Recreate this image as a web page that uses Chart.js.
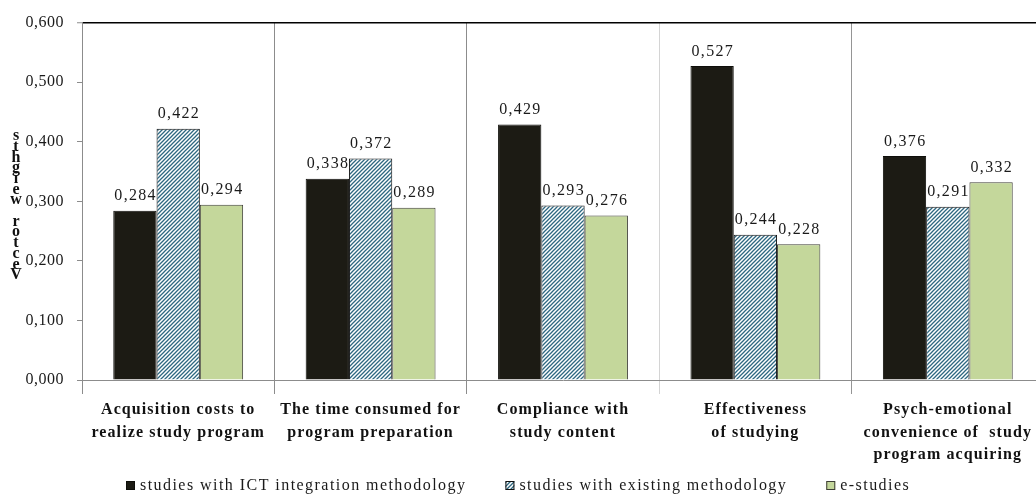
<!DOCTYPE html>
<html>
<head>
<meta charset="utf-8">
<title>Vector weights by study approach</title>
<script src="https://cdn.jsdelivr.net/npm/chart.js@4/dist/chart.umd.min.js"></script>
<style>
  html, body { margin: 0; padding: 0; background: #ffffff; overflow: hidden; }
  #wrap { position: relative; width: 1046px; height: 494px; }
</style>
</head>
<body>
<div id="wrap"><canvas id="chart"></canvas></div>
<script>
// ---- data ----
const categories = [
  ['Acquisition costs to', 'realize study program'],
  ['The time consumed for', 'program preparation'],
  ['Compliance with', 'study content'],
  ['Effectiveness', 'of studying'],
  ['Psych-emotional', 'convenience of  study', 'program acquiring']
];
const seriesNames = [
  'studies with ICT integration methodology',
  'studies with existing methodology',
  'e-studies'
];
const ictValues      = [0.284, 0.338, 0.429, 0.527, 0.376];
const existingValues = [0.422, 0.372, 0.293, 0.244, 0.291];
const eStudyValues   = [0.294, 0.289, 0.276, 0.228, 0.332];
const axisTitle = 'Vector weights';
const yMin = 0, yMax = 0.6, yStep = 0.1;

// ---- helpers ----
const SERIF = '"Liberation Serif", "Times New Roman", serif';
const fmt = v => v.toFixed(3).replace('.', ',');

function hatchPattern(color) {
  const c = document.createElement('canvas');
  c.width = 4; c.height = 4;
  const g = c.getContext('2d');
  g.fillStyle = '#ffffff';
  g.fillRect(0, 0, 4, 4);
  g.strokeStyle = color;
  g.lineWidth = 1.3;
  g.beginPath();
  g.moveTo(0, 4); g.lineTo(4, 0);
  g.moveTo(-1, 1); g.lineTo(1, -1);
  g.moveTo(3, 5); g.lineTo(5, 3);
  g.stroke();
  return g.createPattern(c, 'repeat');
}

// value labels above each bar, then wider letter spacing for the category labels
const valueLabels = {
  id: 'valueLabels',
  beforeDraw(chart) {
    chart.ctx.letterSpacing = '0.5px';
  },
  afterDatasetsDraw(chart) {
    const ctx = chart.ctx;
    ctx.save();
    ctx.font = '16px ' + SERIF;
    ctx.letterSpacing = '1.3px';
    ctx.fillStyle = '#1a1a1a';
    ctx.textAlign = 'center';
    ctx.textBaseline = 'alphabetic';
    chart.data.datasets.forEach((ds, i) => {
      const meta = chart.getDatasetMeta(i);
      meta.data.forEach((bar, j) => {
        ctx.fillText(fmt(ds.data[j]), bar.x + 0.7, bar.y - 10.5);
      });
    });
    ctx.restore();
    chart.ctx.letterSpacing = '1.1px';
  }
};

// legend row under the category labels
const LEGEND_CENTER = 518;
const legendRow = {
  id: 'legendRow',
  afterDraw(chart) {
    const ctx = chart.ctx;
    ctx.save();
    ctx.font = '16px ' + SERIF;
    ctx.letterSpacing = '1.45px';
    ctx.textAlign = 'left';
    ctx.textBaseline = 'alphabetic';
    const box = 9, boxGap = 5, itemGap = 39, baseY = 490;
    const items = chart.data.datasets.map(ds => ({
      ds, w: box + boxGap + ctx.measureText(ds.label).width
    }));
    const total = items.reduce((s, it) => s + it.w, 0) + itemGap * (items.length - 1);
    let x = Math.round(LEGEND_CENTER - total / 2);
    items.forEach(it => {
      ctx.fillStyle = it.ds.backgroundColor;
      ctx.fillRect(x, baseY - 9, box, box);
      ctx.strokeStyle = it.ds.borderColor;
      ctx.lineWidth = 1;
      ctx.strokeRect(x + 0.5, baseY - 8.5, box - 1, box - 1);
      ctx.fillStyle = '#1a1a1a';
      ctx.fillText(it.ds.label, x + box + boxGap, baseY);
      x += it.w + itemGap;
    });
    ctx.restore();
  }
};

// y-axis title written as a column of stacked letters
const stackedTitle = {
  id: 'stackedTitle',
  afterDraw(chart) {
    const ctx = chart.ctx;
    ctx.save();
    ctx.font = 'bold 16px ' + SERIF;
    ctx.letterSpacing = '0px';
    ctx.fillStyle = '#111111';
    ctx.textAlign = 'center';
    ctx.textBaseline = 'middle';
    const chars = Array.from(axisTitle).reverse();
    const top = 136, step = 10.7;
    chars.forEach((ch, k) => {
      if (ch !== ' ') ctx.fillText(ch, 16, top + k * step);
    });
    ctx.restore();
  }
};

const xGridColors = ['#8c8c8c', '#8c8c8c', '#8c8c8c', '#d4d4d4', '#959595', '#959595'];

new Chart(document.getElementById('chart'), {
  type: 'bar',
  data: {
    labels: categories,
    datasets: [
      {
        label: seriesNames[0],
        data: ictValues,
        backgroundColor: '#1c1b14',
        borderColor: '#0e0e0a',
        borderWidth: 1
      },
      {
        label: seriesNames[1],
        data: existingValues,
        backgroundColor: hatchPattern('#2d6781'),
        borderColor: '#111111',
        borderWidth: 1
      },
      {
        label: seriesNames[2],
        data: eStudyValues,
        backgroundColor: '#c4d79b',
        borderColor: '#3e3e36',
        borderWidth: 1
      }
    ]
  },
  options: {
    responsive: true,
    maintainAspectRatio: false,
    animation: false,
    layout: { padding: { left: 0, right: 2, top: 18, bottom: 0 } },
    datasets: { bar: { categoryPercentage: 0.675, barPercentage: 1.0 } },
    plugins: {
      legend: { display: false },
      tooltip: { enabled: false }
    },
    scales: {
      x: {
        offset: true,
        grid: {
          offset: true,
          color: xGridColors,
          tickColor: xGridColors,
          lineWidth: 1,
          tickLength: 14,
          drawTicks: true
        },
        border: { color: '#8c8c8c', width: 1 },
        ticks: {
          z: 1,
          autoSkip: false,
          maxRotation: 0,
          minRotation: 0,
          padding: 5,
          color: '#111111',
          font: { family: SERIF, size: 16, weight: 'bold', lineHeight: 1.4 }
        },
        afterFit(scale) { scale.height = 114; }
      },
      y: {
        min: yMin,
        max: yMax,
        ticks: {
          stepSize: yStep,
          padding: 13,
          color: '#1a1a1a',
          font: { family: SERIF, size: 16 },
          callback: v => fmt(v)
        },
        grid: {
          color: c => (c.tick && Math.abs(c.tick.value - yMax) < 1e-9) ? '#000000' : 'rgba(0,0,0,0)',
          lineWidth: c => (c.tick && Math.abs(c.tick.value - yMax) < 1e-9) ? 1.5 : 1,
          tickColor: '#8c8c8c',
          tickWidth: 1,
          tickLength: 5,
          drawTicks: true
        },
        border: { color: '#8c8c8c', width: 1 },
        afterFit(scale) { scale.width = 82; }
      }
    }
  },
  plugins: [valueLabels, legendRow, stackedTitle]
});
</script>
</body>
</html>
